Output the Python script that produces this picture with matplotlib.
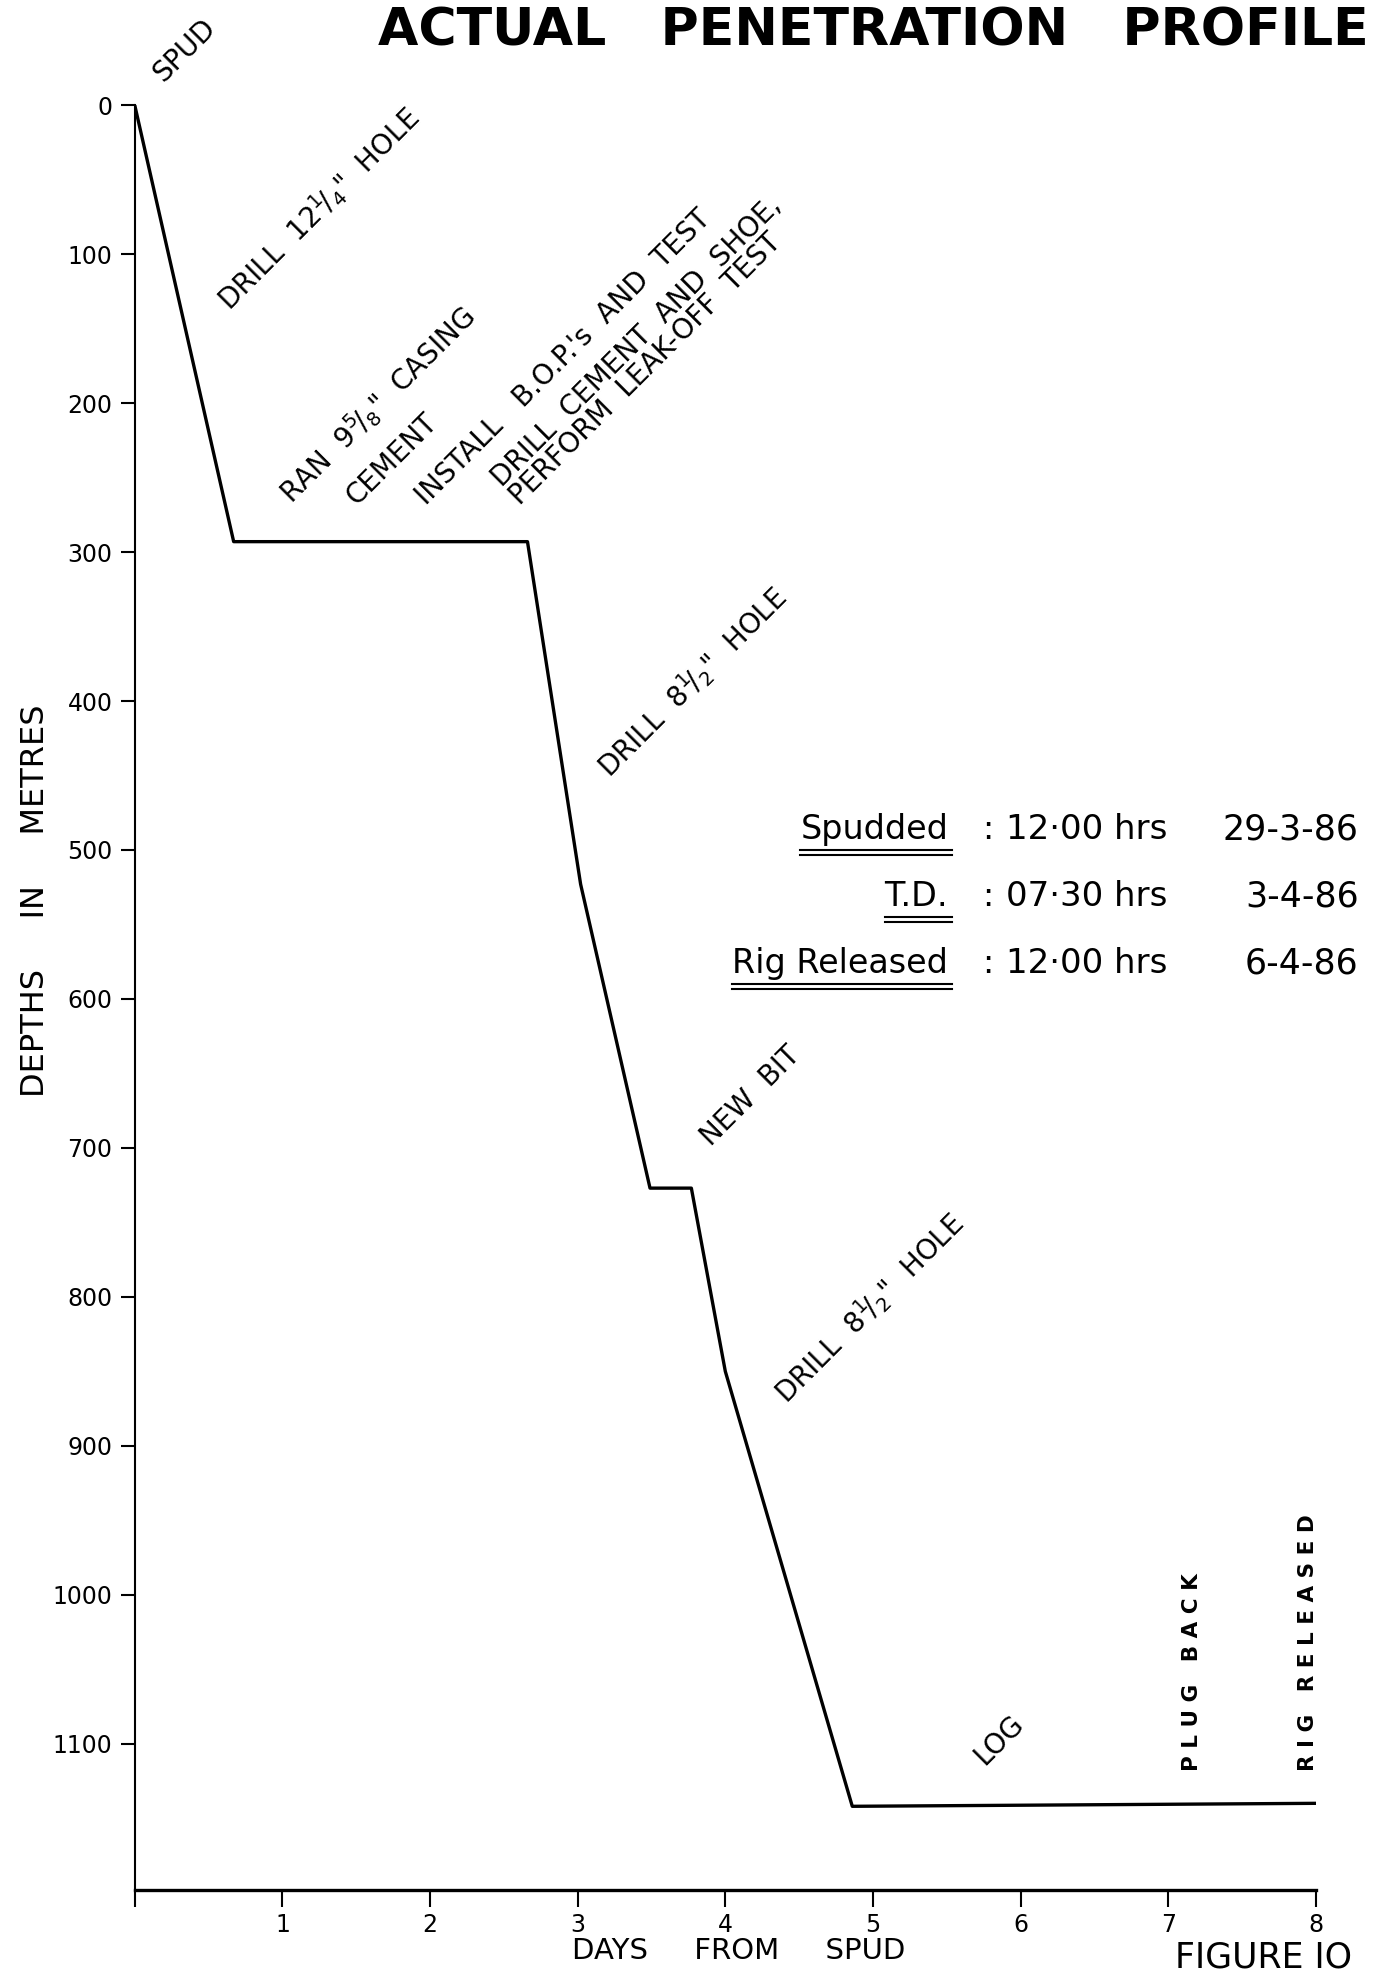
import numpy as np
import matplotlib
matplotlib.use('Agg')
import matplotlib.pyplot as plt
from matplotlib.lines import Line2D

plt.rcParams['font.family'] = ['DejaVu Sans']
plt.rcParams['mathtext.fontset'] = 'dejavusans'

# penetration profile: days from spud vs depth (m)
days = [0.0, 0.67, 2.66, 3.02, 3.49, 3.77, 4.00, 4.86, 8.00]
depth = [0, 293, 293, 523, 727, 727, 850, 1142, 1140]

x_ticks = [0, 1, 2, 3, 4, 5, 6, 7, 8]
x_ticklabels = ['', '1', '2', '3', '4', '5', '6', '7', '8']

# operation notes: (text, day, depth, angle)
notes = [
    ('SPUD', 0.22, -12, 45),
    (r'DRILL  12$^{1}\!/_{4}$"  HOLE', 0.68, 142, 45),
    (r'RAN  9$^{5}\!/_{8}$"  CASING', 1.10, 272, 45),
    ('CEMENT', 1.53, 272, 45),
    ("INSTALL   B.O.P.'s  AND  TEST", 2.00, 272, 45),
    ('DRILL  CEMENT  AND  SHOE,\nPERFORM  LEAK-OFF  TEST', 2.64, 272, 45),
    (r'DRILL  8$^{1}\!/_{2}$"  HOLE', 3.25, 456, 45),
    ('NEW  BIT', 3.93, 702, 45),
    (r'DRILL  8$^{1}\!/_{2}$"  HOLE', 4.45, 876, 45),
    ('LOG', 5.78, 1118, 45),
    ('P L U G   B A C K', 7.16, 1118, 90),
    ('R I G   R E L E A S E D', 7.95, 1118, 90),
]

info_labels = ['Spudded', 'T.D.', 'Rig Released']
info_times = ['12·00 hrs', '07·30 hrs', '12·00 hrs']
info_dates = ['29-3-86', '3-4-86', '6-4-86']
info_depths = [486, 531, 576]

fig = plt.figure(figsize=(13.75, 19.85), dpi=100)
ax = fig.add_axes([0.098, 0.048, 0.859, 0.899])

ax.plot(days, depth, color='black', linewidth=2.4)

ax.set_xlim(0, 8)
ax.set_ylim(1198, 0)
ax.set_xticks(x_ticks)
ax.set_xticklabels(x_ticklabels)
ax.set_yticks(range(0, 1101, 100))
ax.tick_params(axis='y', direction='out', length=10, width=1.5, labelsize=17, pad=6)
ax.tick_params(axis='x', direction='out', length=12, width=1.5, labelsize=17, pad=5)
for s in ['top', 'right']:
    ax.spines[s].set_visible(False)
ax.spines['left'].set_bounds(0, 1198)
ax.spines['left'].set_linewidth(1.5)
ax.spines['bottom'].set_linewidth(2.4)

for txt, d, z, ang in notes:
    if ang == 90:
        ax.text(d, z, txt, rotation=90, ha='center', va='bottom', fontsize=15.5,
                fontweight='bold', clip_on=False)
    else:
        ax.text(d, z, txt, rotation=ang, rotation_mode='anchor', ha='left', va='bottom',
                fontsize=20, clip_on=False, linespacing=0.9)

lab_texts = []
for lab, t, dt, z in zip(info_labels, info_times, info_dates, info_depths):
    lab_texts.append(ax.text(5.51, z, lab, ha='right', va='center', fontsize=24))
    ax.text(5.78, z, ':', ha='center', va='center', fontsize=24)
    ax.text(5.90, z, t, ha='left', va='center', fontsize=24.5)
    ax.text(8.29, z, dt, ha='right', va='center', fontsize=25, clip_on=False)

fig.text(0.635, 0.984, 'ACTUAL   PENETRATION   PROFILE', ha='center', va='center',
         fontsize=37.5, fontweight='bold')
fig.text(0.026, 0.546, 'DEPTHS     IN     METRES', rotation=90, ha='center', va='center',
         fontsize=23)
fig.text(0.537, 0.017, 'DAYS     FROM     SPUD', ha='center', va='center', fontsize=21)
fig.text(0.919, 0.014, 'FIGURE IO', ha='center', va='center', fontsize=25)

# double underlines under the info labels
fig.canvas.draw()
r = fig.canvas.get_renderer()
W, H = fig.bbox.width, fig.bbox.height
for t in lab_texts:
    bb = t.get_window_extent(r)
    for off in (4, 9):
        y = (bb.y0 - off) / H
        fig.add_artist(Line2D([bb.x0 / W, (bb.x1 + 4) / W], [y, y],
                              transform=fig.transFigure, color='black', linewidth=1.5))

fig.savefig('out.png', dpi=100)
